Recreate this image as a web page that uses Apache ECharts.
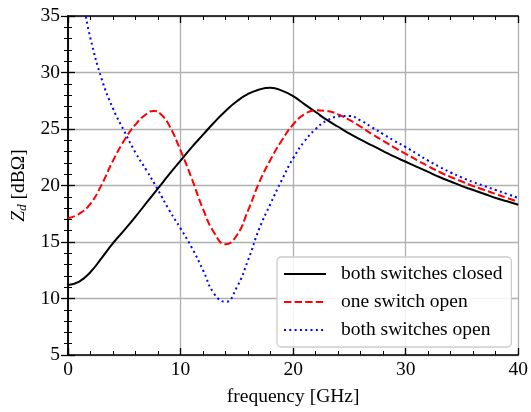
<!DOCTYPE html>
<html>
<head>
<meta charset="utf-8">
<script src="https://cdn.jsdelivr.net/npm/echarts@6/dist/echarts.min.js"></script>
<style>html,body{margin:0;padding:0;background:#fff}#c{width:531px;height:412px}</style>
</head>
<body>
<div id="c"></div>
<script>
const freqs = [0,1,2,3,4,5,6,7,8,9,10,11,12,13,14,15,16,17,18,19,20,21,22,23,24,25,26,27,28,29,30,31,32,33,34,35,36,37,38,39,40];
const closedVals = [11.2,11.5,12.35,13.6,14.9,16.05,17.25,18.5,19.75,21.0,22.2,23.4,24.5,25.6,26.6,27.45,28.1,28.5,28.65,28.4,27.9,27.2,26.5,25.8,25.2,24.6,24.05,23.55,23.05,22.55,22.1,21.65,21.2,20.75,20.35,19.95,19.6,19.25,18.9,18.6,18.3];
const oneOpenFreqs = [0,1,2,3,4,5,6,7,7.6,8.2,9,10,11,12,13,14,15,16,17,18,19,20,21,22,23,24,25,26,27,28,29,30,31,32,33,34,35,36,37,38,39,40];
const oneOpenVals = [17.1,17.5,18.4,20.1,22.2,24.0,25.4,26.35,26.6,26.35,25.3,23.1,20.6,17.9,15.8,14.8,15.6,17.8,20.3,22.3,24.0,25.4,26.3,26.65,26.6,26.3,25.8,25.2,24.55,23.95,23.35,22.8,22.25,21.7,21.2,20.75,20.35,19.95,19.6,19.25,18.9,18.55];
const bothOpenFreqs = [1.5,2,3,4,5,6,7,8,9,10,11,12,13,14,15,16,17,18,19,20,21,22,23,24,25,26,27,28,29,30,31,32,33,34,35,36,37,38,39,40];
const bothOpenVals = [35.4,33.0,29.4,26.8,24.8,22.9,21.3,19.6,17.8,16.2,14.5,12.5,10.4,9.7,11.0,13.4,16.2,18.4,20.5,22.4,23.9,25.0,25.75,26.1,26.15,25.75,25.15,24.55,23.95,23.4,22.8,22.2,21.65,21.15,20.7,20.3,19.95,19.6,19.25,18.9];
const seriesNames = ['both switches closed','one switch open','both switches open'];
const xTicks = [0,10,20,30,40];
const yTicks = [5,10,15,20,25,30,35];

const FONT = 'Liberation Serif';
const FS = 19.5;
const pair = (xs, ys) => xs.map((x, i) => [x, ys[i]]);

const chart = echarts.init(document.getElementById('c'), null, {renderer: 'canvas'});
const tickCommon = () => ({
  axisLine: {show: true, lineStyle: {color: '#000', width: 1.5}},
  axisTick: {show: true, inside: true, length: 7, lineStyle: {color: '#000', width: 1.3}},
  minorTick: {show: true, splitNumber: 5, length: 4, lineStyle: {color: '#000', width: 1}},
});
const option = {
  animation: false,
  grid: {left: 68, right: 11, top: 16, bottom: 55, containLabel: false},
  xAxis: [
    Object.assign({
      type: 'value', min: xTicks[0], max: xTicks[xTicks.length-1], interval: 10, position: 'bottom',
      name: 'frequency [GHz]', nameLocation: 'middle', nameGap: 32,
      nameTextStyle: {fontFamily: FONT, fontSize: FS, color: '#000'},
      axisLabel: {fontFamily: FONT, fontSize: FS, color: '#000', margin: 5},
      splitLine: {show: true, lineStyle: {color: '#b0b0b0', width: 1.3}},
    }, tickCommon()),
    Object.assign({
      type: 'value', min: xTicks[0], max: xTicks[xTicks.length-1], interval: 10, position: 'top',
      axisLabel: {show: false}, splitLine: {show: false}
    }, tickCommon())
  ],
  yAxis: [
    Object.assign({
      type: 'value', min: yTicks[0], max: yTicks[yTicks.length-1], interval: 5, position: 'left',
      name: '{i|Z}{s|d} [dBΩ]', nameLocation: 'middle', nameGap: 33,
      nameTextStyle: {fontFamily: FONT, fontSize: FS, color: '#000',
        rich: {
          i: {fontFamily: FONT, fontSize: FS, fontStyle: 'italic', color: '#000'},
          s: {fontFamily: FONT, fontSize: 13.5, fontStyle: 'italic', color: '#000', padding: [8, 0, 0, 0]}
        }},
      axisLabel: {fontFamily: FONT, fontSize: FS, color: '#000', margin: 8},
      splitLine: {show: true, lineStyle: {color: '#b0b0b0', width: 1.3}},
    }, tickCommon()),
    Object.assign({
      type: 'value', min: yTicks[0], max: yTicks[yTicks.length-1], interval: 5, position: 'right',
      axisLabel: {show: false}, splitLine: {show: false}
    }, tickCommon())
  ],
  legend: {
    left: 277, top: 257, orient: 'vertical',
    itemWidth: 42, itemHeight: 16, itemGap: 8,
    padding: [7, 9, 7, 6],
    backgroundColor: 'rgba(255,255,255,0.85)',
    borderColor: '#cccccc', borderWidth: 1.3, borderRadius: 4,
    itemStyle: {opacity: 0},
    textStyle: {fontFamily: FONT, fontSize: FS, color: '#000', lineHeight: 20, padding: [0, 0, 0, 10]},
    data: seriesNames,
  },
  series: [
    {name: seriesNames[0], type: 'line', data: pair(freqs, closedVals), smooth: 0.5, showSymbol: false, symbol: 'none',
      lineStyle: {color: '#000000', width: 2}, itemStyle: {color: '#000000'}},
    {name: seriesNames[1], type: 'line', data: pair(oneOpenFreqs, oneOpenVals), smooth: 0.5, showSymbol: false, symbol: 'none',
      lineStyle: {color: '#ff0000', width: 2, type: [7.4, 3.2]}, itemStyle: {color: '#ff0000'}},
    {name: seriesNames[2], type: 'line', data: pair(bothOpenFreqs, bothOpenVals), smooth: 0.5, showSymbol: false, symbol: 'none',
      lineStyle: {color: '#0000ff', width: 2, type: [2, 3.3]}, itemStyle: {color: '#0000ff'}}
  ]
};
chart.setOption(option);
</script>
</body>
</html>
